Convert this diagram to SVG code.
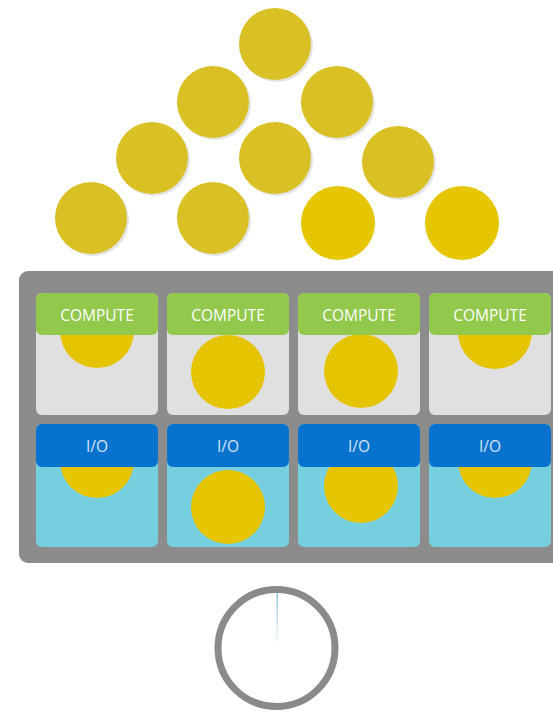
<svg xmlns="http://www.w3.org/2000/svg" width="553" height="712" viewBox="0 0 553 712">
<defs>
<style>
.coin{fill:#D9C024}
.coinB{fill:#E5C600}
.sh{fill:#e4e4e4}
.cell{fill:#E0E0E0}
.iocell{fill:#76CFDF}
.ch{fill:#92C84C}
.ih{fill:#0873CF}
.inner{fill:#E5C500}
.lbl{font-family:"Open Sans","Liberation Sans",sans-serif;font-size:15.5px;text-anchor:middle}
.lc{fill:#ffffff}
.li{fill:#D6E4F2}
</style>
<linearGradient id="hand" x1="0" y1="0" x2="0" y2="1">
<stop offset="0" stop-color="#8FC3DA"/>
<stop offset="1" stop-color="#ffffff"/>
</linearGradient>
<clipPath id="c1"><rect x="36" y="293" width="122" height="122" rx="6"/></clipPath>
<clipPath id="c2"><rect x="167" y="293" width="122" height="122" rx="6"/></clipPath>
<clipPath id="c3"><rect x="298" y="293" width="122" height="122" rx="6"/></clipPath>
<clipPath id="c4"><rect x="429" y="293" width="122" height="122" rx="6"/></clipPath>
<clipPath id="i1"><rect x="36" y="424" width="122" height="123" rx="6"/></clipPath>
<clipPath id="i2"><rect x="167" y="424" width="122" height="123" rx="6"/></clipPath>
<clipPath id="i3"><rect x="298" y="424" width="122" height="123" rx="6"/></clipPath>
<clipPath id="i4"><rect x="429" y="424" width="122" height="123" rx="6"/></clipPath>
</defs>
<rect width="553" height="712" fill="#ffffff"/>

<g id="coins">
<g class="sh">
<circle cx="277" cy="46" r="36"/>
<circle cx="215" cy="104" r="36"/>
<circle cx="339" cy="104" r="36"/>
<circle cx="154" cy="160" r="36"/>
<circle cx="277" cy="160" r="36"/>
<circle cx="400" cy="164" r="36"/>
<circle cx="93" cy="220" r="36"/>
<circle cx="215" cy="220" r="36"/>
</g>
<circle class="coin" cx="275" cy="44" r="36"/>
<circle class="coin" cx="213" cy="102" r="36"/>
<circle class="coin" cx="337" cy="102" r="36"/>
<circle class="coin" cx="152" cy="158" r="36"/>
<circle class="coin" cx="275" cy="158" r="36"/>
<circle class="coin" cx="398" cy="162" r="36"/>
<circle class="coin" cx="91" cy="218" r="36"/>
<circle class="coin" cx="213" cy="218" r="36"/>
<circle class="coinB" cx="338" cy="223" r="37"/>
<circle class="coinB" cx="462" cy="223" r="37"/>
</g>

<g id="panel">
<rect x="19" y="271" width="560" height="292" rx="9" fill="#8C8C8C"/>
</g>

<g id="compute1">
<rect class="cell" x="36" y="293" width="122" height="122" rx="6"/>
<circle class="inner" cx="97" cy="331" r="37" clip-path="url(#c1)"/>
<rect class="ch" x="36" y="293" width="122" height="42" rx="6"/>
<text class="lbl lc" x="97" y="321">COMPUTE</text>
</g>
<g id="compute2">
<rect class="cell" x="167" y="293" width="122" height="122" rx="6"/>
<circle class="inner" cx="228" cy="372" r="37" clip-path="url(#c2)"/>
<rect class="ch" x="167" y="293" width="122" height="42" rx="6"/>
<text class="lbl lc" x="228" y="321">COMPUTE</text>
</g>
<g id="compute3">
<rect class="cell" x="298" y="293" width="122" height="122" rx="6"/>
<circle class="inner" cx="361" cy="371" r="37" clip-path="url(#c3)"/>
<rect class="ch" x="298" y="293" width="122" height="42" rx="6"/>
<text class="lbl lc" x="359" y="321">COMPUTE</text>
</g>
<g id="compute4">
<rect class="cell" x="429" y="293" width="122" height="122" rx="6"/>
<circle class="inner" cx="495" cy="332" r="37" clip-path="url(#c4)"/>
<rect class="ch" x="429" y="293" width="122" height="42" rx="6"/>
<text class="lbl lc" x="490" y="321">COMPUTE</text>
</g>

<g id="io1">
<rect class="iocell" x="36" y="424" width="122" height="123" rx="6"/>
<circle class="inner" cx="97" cy="461" r="37" clip-path="url(#i1)"/>
<rect class="ih" x="36" y="424" width="122" height="43" rx="6"/>
<text class="lbl li" x="97" y="452">I/O</text>
</g>
<g id="io2">
<rect class="iocell" x="167" y="424" width="122" height="123" rx="6"/>
<circle class="inner" cx="228" cy="507" r="37" clip-path="url(#i2)"/>
<rect class="ih" x="167" y="424" width="122" height="43" rx="6"/>
<text class="lbl li" x="228" y="452">I/O</text>
</g>
<g id="io3">
<rect class="iocell" x="298" y="424" width="122" height="123" rx="6"/>
<circle class="inner" cx="361" cy="486" r="37" clip-path="url(#i3)"/>
<rect class="ih" x="298" y="424" width="122" height="43" rx="6"/>
<text class="lbl li" x="359" y="452">I/O</text>
</g>
<g id="io4">
<rect class="iocell" x="429" y="424" width="122" height="123" rx="6"/>
<circle class="inner" cx="495" cy="461" r="37" clip-path="url(#i4)"/>
<rect class="ih" x="429" y="424" width="122" height="43" rx="6"/>
<text class="lbl li" x="490" y="452">I/O</text>
</g>

<g id="clock">
<circle cx="276.5" cy="648" r="58.5" fill="none" stroke="#8A8A8A" stroke-width="7"/>
<rect x="276.5" y="593" width="1.5" height="52" fill="url(#hand)"/>
</g>
<g id="connectors"/>
</svg>
